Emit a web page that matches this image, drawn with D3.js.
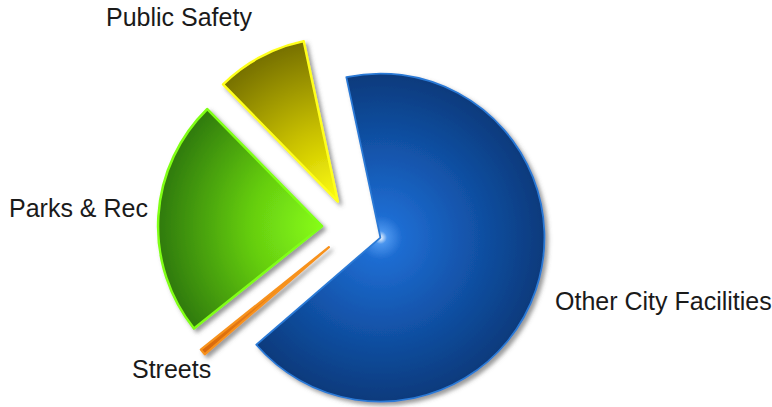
<!DOCTYPE html>
<html><head><meta charset="utf-8">
<script src="https://cdn.jsdelivr.net/npm/d3@7"></script>
<style>html,body{margin:0;padding:0;background:#fff;}svg{display:block;}</style>
</head><body>
<script>
// Data
const categories = ["Other City Facilities", "Streets", "Parks & Rec", "Public Safety"];
const values = [67, 0.6, 23.4, 9];

// Layout / styles (not data)
const W = 772, H = 407;
const cx = 352, cy = 228, R = 164, explode = 30;
const startDeg = -12;
const styles = [
  {stops: [[0,"#ffffff"],[0.04,"#4a95ee"],[0.13,"#1f6dd2"],[0.5,"#1356ae"],[1,"#0a3a7c"]], stroke: "#2c7ad6", sw: 1.8},
  {stops: [[0,"#ffb040"],[0.5,"#e8801a"],[1,"#d8680a"]], stroke: "#f7921e", sw: 2.2},
  {stops: [[0,"#88fc16"],[0.45,"#64cc10"],[1,"#2f7a08"]], stroke: "#80ff14", sw: 2.5},
  {stops: [[0,"#ffff10"],[0.45,"#c8c000"],[1,"#767000"]], stroke: "#ffff1a", sw: 2.5}
];
const labelPos = [
  {x: 555, y: 310, anchor: "start"},
  {x: 132, y: 378, anchor: "start"},
  {x: 9, y: 217, anchor: "start"},
  {x: 106, y: 26, anchor: "start"}
];

const svg = d3.select("body").append("svg").attr("width", W).attr("height", H);
const defs = svg.append("defs");
const f = defs.append("filter").attr("id","shadow").attr("x","-20%").attr("y","-20%").attr("width","140%").attr("height","140%");
f.append("feDropShadow").attr("dx",3).attr("dy",3).attr("stdDeviation",2)
  .attr("flood-color","#555").attr("flood-opacity",0.6);

styles.forEach((s,i) => {
  const g = defs.append("radialGradient").attr("id","grad"+i)
    .attr("gradientUnits","userSpaceOnUse").attr("cx",0).attr("cy",0).attr("r",R).attr("fx",0).attr("fy",0);
  s.stops.forEach(st => g.append("stop").attr("offset",st[0]).attr("stop-color",st[1]));
});

const pie = d3.pie().sort(null).value(d => d)
  .startAngle(startDeg*Math.PI/180).endAngle(startDeg*Math.PI/180 + 2*Math.PI);
const arcs = pie(values);
const arc = d3.arc().innerRadius(0).outerRadius(R);

const root = svg.append("g").attr("transform", `translate(${cx},${cy})`);
root.selectAll("g.slice").data(arcs).join("g")
  .attr("class","slice")
  .attr("transform", d => {
    const a = (d.startAngle + d.endAngle)/2;
    return `translate(${explode*Math.sin(a)},${-explode*Math.cos(a)})`;
  })
  .append("path")
  .attr("d", arc)
  .attr("fill", (d,i) => `url(#grad${i})`)
  .attr("stroke", (d,i) => styles[i].stroke)
  .attr("stroke-width", (d,i) => styles[i].sw)
  .attr("stroke-linejoin","round")
  .attr("filter","url(#shadow)");

svg.selectAll("text.lbl").data(categories).join("text")
  .attr("class","lbl")
  .attr("x", (d,i) => labelPos[i].x)
  .attr("y", (d,i) => labelPos[i].y)
  .attr("text-anchor", (d,i) => labelPos[i].anchor)
  .attr("font-family","Liberation Sans, Arial, sans-serif")
  .attr("font-size", 25)
  .attr("fill","#1a1a1a")
  .text(d => d);
</script>
</body></html>
